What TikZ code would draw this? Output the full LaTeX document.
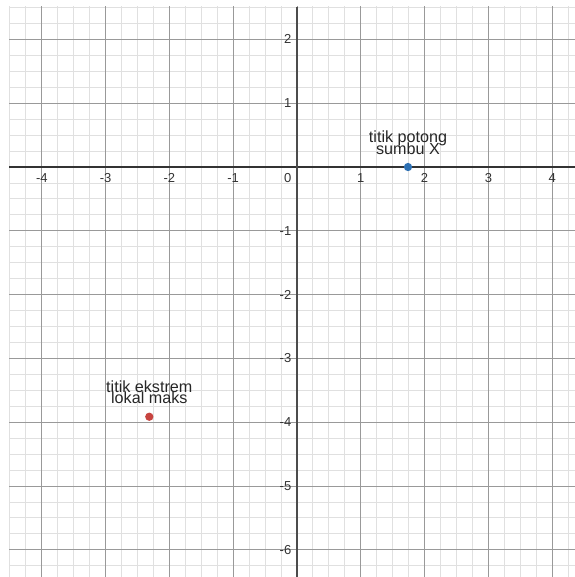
\documentclass[tikz,border=0pt]{standalone}
\usepackage{fontspec}
\setmainfont{Liberation Sans}
\usetikzlibrary{positioning}
\definecolor{ptblue}{HTML}{2D70B3}
\definecolor{ptred}{HTML}{C74440}
\newcommand\ptlblfont{\fontsize{7.2}{5.2}\selectfont\lineskiplimit=-10pt\relax}
\tikzset{
  ticklbl/.style={font=\fontsize{5.8}{6}\selectfont, text=black!80, inner sep=0.8pt},
  ptlbl/.style={font=\ptlblfont, align=center, text=black!85, inner sep=0pt, text depth=0pt, anchor=south},
  ptdot/.style={circle, inner sep=0pt, minimum size=0.13cm},
}
\begin{document}
\begin{tikzpicture}[x=1cm,y=1cm]
\useasboundingbox (-4.655,-6.426) rectangle (4.357,2.618);
\begin{scope}
\clip (-4.51,-6.426) rectangle (4.357,2.51);
\draw[black!12, line width=0.4pt] (-4.75,-6.5) grid[step=0.25] (4.5,2.75);
\draw[black!40, line width=0.4pt] (-5,-7) grid[step=1.0] (5,3);
\end{scope}
\draw[black!80, line width=0.9pt] (-4.51,0) -- (4.357,0);
\draw[black!70, line width=0.9pt] (0,-6.426) -- (0,2.51);
\foreach \x in {-4,-3,-2,-1,1,2,3,4}
  \node[ticklbl, anchor=north] (xl\x) at (\x,-0.065) {\x};
\foreach \y in {-6,-5,-4,-3,-2,-1,1,2}
  \node[ticklbl, anchor=east] (yl\y) at (-0.055,\y) {\y};
\node[ticklbl, anchor=north east] (zero) at (-0.055,-0.065) {0};
\node[ptdot, fill=ptblue] (potong) at (1.74,0) {};
\node[ptdot, fill=ptred] (maks) at (-2.315,-3.914) {};
\node[ptlbl] (potonglbl) at ([yshift=5.5pt]potong.center) {titik potong\\sumbu X};
\node[ptlbl] (makslbl) at ([yshift=5.5pt]maks.center) {titik ekstrem\\lokal maks};
\end{tikzpicture}
\end{document}
